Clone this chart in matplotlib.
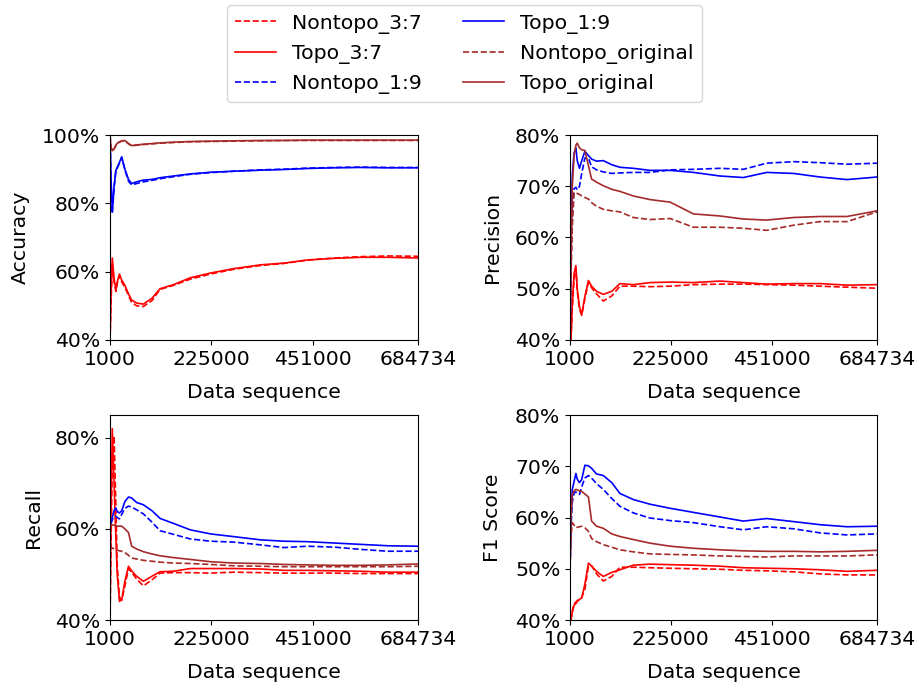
import matplotlib
matplotlib.use("Agg")
import matplotlib.pyplot as plt
from matplotlib.ticker import FuncFormatter

# sample positions along the data sequence
seq = [1000, 3000, 6000, 10000, 14000, 17000, 22000, 27000, 34000, 42000,
       49000, 60000, 75000, 94000, 112000, 142000, 179000, 224000, 276000,
       335000, 387000, 439000, 499000, 558000, 618000, 684734]

series_names = ["Nontopo_3:7", "Topo_3:7", "Nontopo_1:9", "Topo_1:9",
                "Nontopo_original", "Topo_original"]

# ---- Accuracy (%)
acc_nontopo_37 = [40, 50, 62, 57, 54.2, 56.5, 58.8, 57, 55.4, 53, 51, 50, 49.8, 51.5, 54.8, 56, 57.8, 59.3, 60.7, 61.8, 62.4, 63.4, 64.0, 64.4, 64.6, 64.5]
acc_topo_37 = [40, 52, 64, 58, 54.7, 57, 59.3, 57.5, 56, 53.5, 51.7, 50.8, 50.5, 52.2, 55, 56.2, 58.2, 59.6, 60.9, 62, 62.5, 63.4, 63.9, 64.2, 64.2, 64.0]
acc_nontopo_19 = [100, 87, 77, 84.5, 89.5, 90.3, 91.8, 93.4, 89.8, 86.5, 85.4, 85.8, 86.3, 86.7, 87.2, 87.8, 88.5, 89.0, 89.4, 89.8, 90.0, 90.3, 90.5, 90.6, 90.5, 90.5]
acc_topo_19 = [100, 88, 77.5, 85, 89.7, 90.5, 92, 93.6, 90, 87, 85.8, 86.3, 86.8, 87.0, 87.5, 88.0, 88.6, 89.1, 89.4, 89.7, 89.9, 90.2, 90.4, 90.5, 90.4, 90.4]
acc_nontopo_orig = [100, 96.3, 95.3, 95.9, 96.9, 97.5, 97.9, 98.2, 98.3, 97.4, 96.8, 97.0, 97.2, 97.4, 97.6, 97.8, 98.0, 98.1, 98.2, 98.3, 98.4, 98.4, 98.4, 98.4, 98.4, 98.4]
acc_topo_orig = [100, 96.5, 95.4, 96.0, 97.0, 97.6, 98.0, 98.3, 98.4, 97.5, 96.9, 97.1, 97.3, 97.5, 97.7, 97.9, 98.1, 98.2, 98.3, 98.4, 98.4, 98.5, 98.5, 98.5, 98.5, 98.5]

# ---- Precision (%)
pre_nontopo_37 = [40, 40, 46, 52, 54, 49.5, 46, 44.8, 48, 51.3, 50.2, 49, 47.6, 48.6, 50.5, 50.5, 50.4, 50.5, 50.8, 50.9, 50.9, 50.8, 50.7, 50.5, 50.3, 50.1]
pre_topo_37 = [40, 40, 47, 53, 54.5, 50, 46.5, 45.0, 48.5, 51.6, 50.5, 49.5, 48.9, 49.5, 51.0, 50.8, 51.2, 51.3, 51.2, 51.5, 51.2, 50.9, 51.0, 51.0, 50.7, 50.8]
pre_nontopo_19 = [40, 55, 66, 69.5, 69.8, 69.3, 70, 72.5, 75.5, 75.5, 73.8, 73.2, 72.8, 72.5, 72.6, 72.7, 72.7, 73.2, 73.3, 73.5, 73.3, 74.5, 74.8, 74.6, 74.3, 74.5]
pre_topo_19 = [40, 58, 72, 76.5, 77.5, 75, 73.5, 75, 76.8, 76, 75.3, 74.9, 75.0, 74.2, 73.7, 73.5, 73.1, 73.1, 72.7, 72.0, 71.7, 72.7, 72.5, 71.8, 71.3, 71.8]
pre_nontopo_orig = [40, 52, 62, 68.8, 68.7, 68.6, 68.4, 68.1, 67.8, 67.5, 66.8, 66.1, 65.5, 65.2, 65.0, 63.9, 63.5, 63.7, 62.0, 62.0, 61.8, 61.4, 62.4, 63.1, 63.1, 65.0]
pre_topo_orig = [40, 55, 70, 76, 78, 78.4, 77.5, 77.1, 77.0, 74, 71.4, 70.8, 70.1, 69.4, 69.0, 68.1, 67.4, 66.9, 64.6, 64.2, 63.6, 63.4, 63.9, 64.1, 64.1, 65.2]

# ---- Recall (%)
rec_nontopo_37 = [40, 55, 75, 80.4, 65, 52, 45, 44.3, 47.5, 51.3, 50.5, 49, 47.5, 48.8, 50.3, 50.4, 50.4, 50.3, 50.5, 50.4, 50.3, 50.3, 50.3, 50.2, 50.2, 50.2]
rec_topo_37 = [40, 62, 82, 70, 58, 50, 44.1, 44.5, 48.5, 51.8, 50.8, 49.6, 48.5, 49.6, 50.6, 50.7, 51.3, 51.3, 51.3, 51.2, 50.9, 50.9, 50.8, 50.7, 50.5, 50.5]
rec_nontopo_19 = [61.3, 61.3, 62.0, 62.6, 62.8, 62.5, 62.2, 63.2, 64.5, 65.0, 64.8, 64.2, 63.3, 61.5, 59.6, 58.8, 57.8, 57.3, 57.1, 56.5, 55.9, 56.2, 56.0, 55.5, 55.1, 55.1]
rec_topo_19 = [61.3, 61.3, 62.5, 64.0, 64.6, 63.8, 63.5, 64.0, 66.0, 67.0, 66.8, 65.8, 65.3, 64.0, 62.3, 61.2, 59.8, 58.9, 58.3, 57.6, 57.3, 57.2, 56.9, 56.6, 56.3, 56.2]
rec_nontopo_orig = [56.5, 56, 55.8, 55.6, 55.4, 55.3, 55.2, 55.1, 54.8, 54.2, 53.6, 53.4, 53.1, 52.9, 52.7, 52.5, 52.4, 52.2, 51.9, 51.8, 51.7, 51.7, 51.7, 51.7, 51.7, 51.8]
rec_topo_orig = [61.0, 61.0, 60.9, 60.8, 60.7, 60.6, 60.6, 60.6, 60.0, 59.2, 56.2, 55.6, 55.0, 54.5, 54.1, 53.7, 53.3, 52.8, 52.5, 52.4, 52.2, 52.1, 52.0, 52.0, 52.1, 52.3]

# ---- F1 Score (%)
f1_nontopo_37 = [40, 40, 41.8, 43.2, 43.5, 43.8, 44.1, 44.4, 46.0, 50.5, 50.6, 49.0, 47.6, 48.5, 50.3, 50.3, 50.2, 50.1, 50.0, 49.9, 49.7, 49.6, 49.4, 49.0, 48.8, 48.8]
f1_topo_37 = [40, 40, 41.5, 42.9, 43.2, 43.6, 44.0, 44.3, 47.0, 51.1, 50.5, 49.5, 48.5, 49.3, 49.8, 50.7, 50.9, 50.8, 50.7, 50.5, 50.2, 50.1, 50.0, 49.8, 49.5, 49.7]
f1_nontopo_19 = [50.5, 58, 63, 64.8, 65.0, 64.7, 64.5, 66.0, 67.7, 68.2, 67.7, 66.6, 65.5, 63.7, 62.2, 60.9, 59.9, 59.4, 59.0, 58.2, 57.6, 58.2, 57.8, 57.0, 56.6, 56.8]
f1_topo_19 = [50.5, 60, 65.5, 67, 68.6, 67.5, 66.8, 67.4, 70.2, 70.1, 69.6, 68.5, 68.2, 66.8, 64.7, 63.5, 62.6, 61.8, 61.0, 60.1, 59.3, 59.8, 59.2, 58.6, 58.2, 58.3]
f1_nontopo_orig = [50, 56, 59, 58.5, 58.0, 58.1, 58.2, 58.3, 58.0, 57.3, 55.9, 55.3, 54.7, 54.2, 53.7, 53.3, 52.9, 52.8, 52.7, 52.5, 52.4, 52.3, 52.5, 52.5, 52.5, 52.7]
f1_topo_orig = [50, 60, 64.5, 65.2, 65.5, 65.4, 65.2, 65.1, 64.6, 64.0, 59.3, 58.3, 57.9, 56.8, 56.3, 55.7, 55.0, 54.4, 54.0, 53.7, 53.5, 53.4, 53.4, 53.3, 53.4, 53.6]

x_ticks = [1000, 225000, 451000, 684734]

panels = [
    ("Accuracy", [acc_nontopo_37, acc_topo_37, acc_nontopo_19, acc_topo_19, acc_nontopo_orig, acc_topo_orig], (40, 100), [40, 60, 80, 100]),
    ("Precision", [pre_nontopo_37, pre_topo_37, pre_nontopo_19, pre_topo_19, pre_nontopo_orig, pre_topo_orig], (40, 80), [40, 50, 60, 70, 80]),
    ("Recall", [rec_nontopo_37, rec_topo_37, rec_nontopo_19, rec_topo_19, rec_nontopo_orig, rec_topo_orig], (40, 85), [40, 60, 80]),
    ("F1 Score", [f1_nontopo_37, f1_topo_37, f1_nontopo_19, f1_topo_19, f1_nontopo_orig, f1_topo_orig], (40, 80), [40, 50, 60, 70, 80]),
]

colors = ["red", "red", "blue", "blue", "brown", "brown"]
styles = ["--", "-", "--", "-", "--", "-"]

plt.rcParams["font.size"] = 14.7
fig = plt.figure(figsize=(9.23, 6.86), dpi=100)

# axes boxes in figure fractions (left, bottom, width, height)
boxes = [(0.1192, 0.5044, 0.3337, 0.2988),
         (0.6176, 0.5044, 0.3326, 0.2988),
         (0.1192, 0.0962, 0.3337, 0.2988),
         (0.6176, 0.0962, 0.3326, 0.2988)]

for box, (label, data, ylim, yticks) in zip(boxes, panels):
    ax = fig.add_axes(box)
    for name, vals, c, ls in zip(series_names, data, colors, styles):
        ax.plot(seq, vals, color=c, linestyle=ls, linewidth=1.2, label=name)
    ax.set_xlim(1000, 684734)
    ax.set_ylim(*ylim)
    ax.set_xticks(x_ticks)
    ax.set_yticks(yticks)
    ax.yaxis.set_major_formatter(FuncFormatter(lambda v, p: "{:.0f}%".format(v)))
    ax.set_xlabel("Data sequence", labelpad=10)
    ax.set_ylabel(label, labelpad=9)

handles, labels = fig.axes[0].get_legend_handles_labels()
fig.legend(handles, labels, loc="upper center", bbox_to_anchor=(0.503, 0.995),
           ncol=2, fontsize=14.7, columnspacing=2.0, borderaxespad=0.1)

fig.savefig("out.png", dpi=100)
